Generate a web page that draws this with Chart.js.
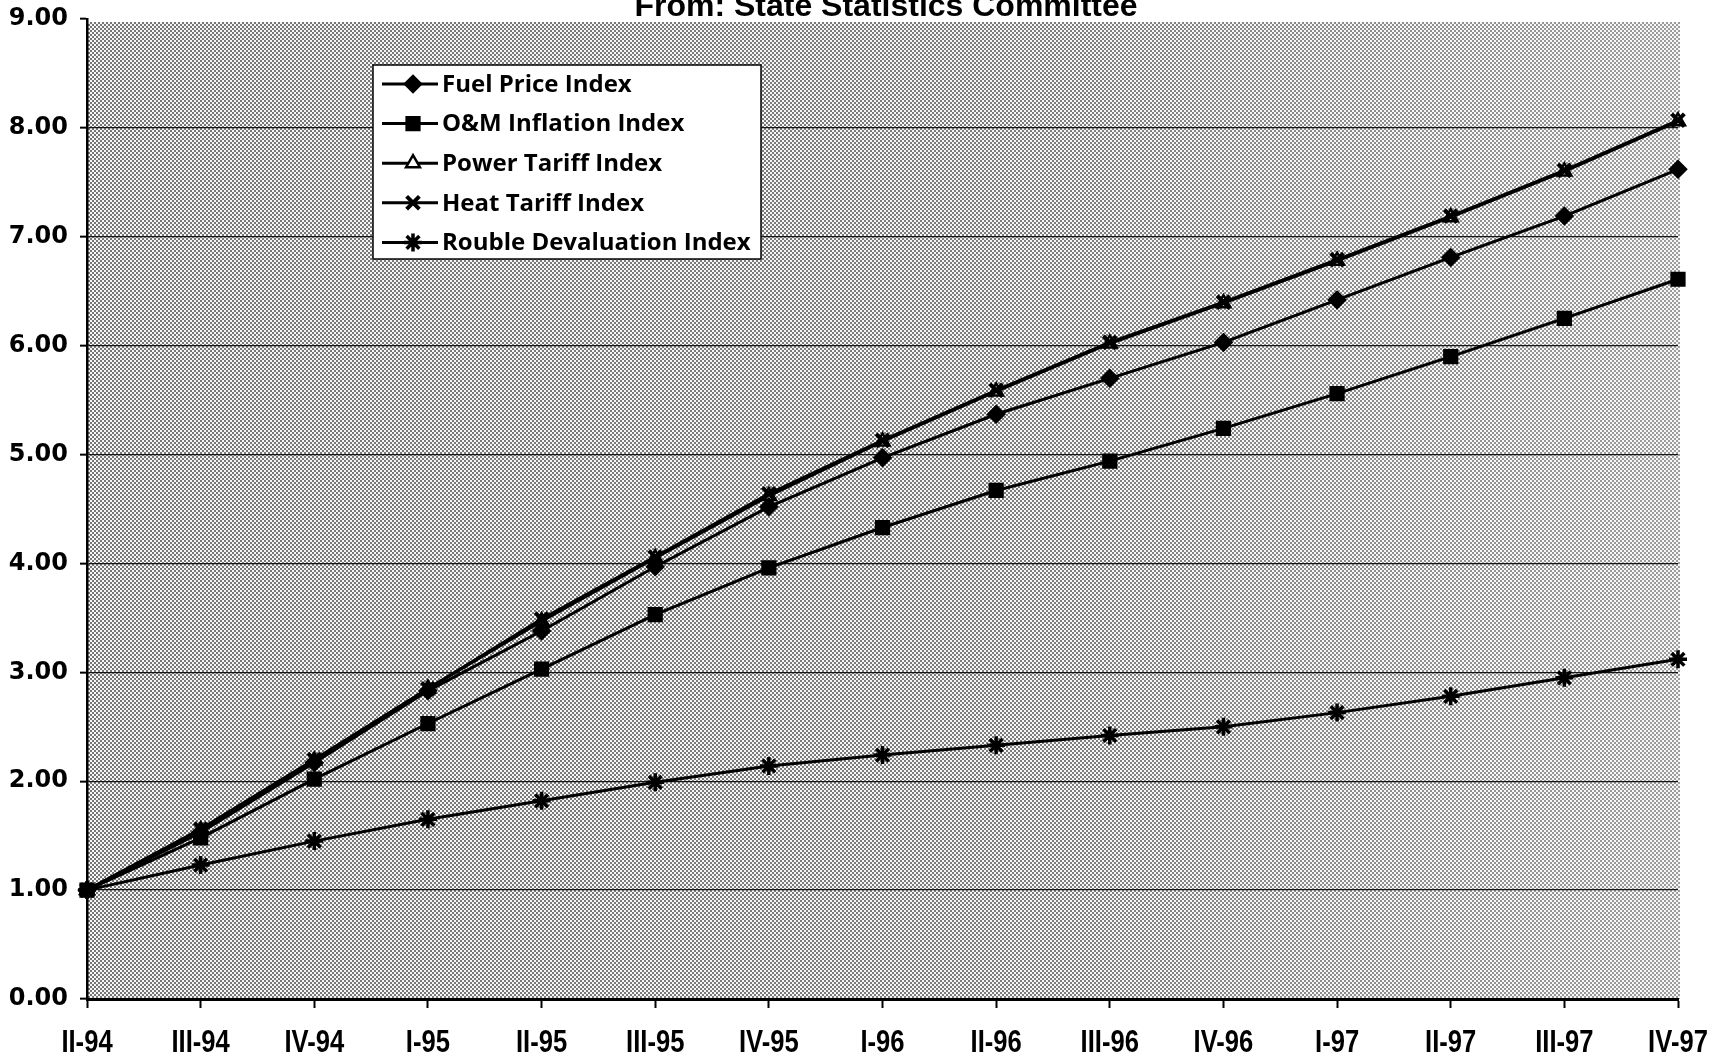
<!DOCTYPE html>
<html>
<head>
<meta charset="utf-8">
<script src="https://cdn.jsdelivr.net/npm/chart.js@4.4.1/dist/chart.umd.min.js"></script>
<style>
  html, body { margin: 0; padding: 0; background: #ffffff; }
  canvas { display: block; }
</style>
</head>
<body>
<canvas id="chart" width="1723" height="1062"></canvas>
<script>
// Quarterly index series, base II-94 = 1.00
const quarters = ['II-94', 'III-94', 'IV-94', 'I-95', 'II-95', 'III-95', 'IV-95', 'I-96',
                  'II-96', 'III-96', 'IV-96', 'I-97', 'II-97', 'III-97', 'IV-97'];
const fuelPrice         = [1.00, 1.53, 2.17, 2.83, 3.38, 3.97, 4.52, 4.97, 5.37, 5.70, 6.03, 6.42, 6.81, 7.19, 7.62];
const omInflation       = [1.00, 1.48, 2.02, 2.53, 3.03, 3.53, 3.96, 4.33, 4.67, 4.94, 5.24, 5.56, 5.90, 6.25, 6.61];
const powerTariff       = [1.00, 1.55, 2.19, 2.85, 3.47, 4.05, 4.62, 5.12, 5.58, 6.02, 6.39, 6.78, 7.18, 7.60, 8.06];
const heatTariff        = [1.00, 1.56, 2.20, 2.85, 3.49, 4.06, 4.64, 5.13, 5.59, 6.03, 6.40, 6.79, 7.19, 7.61, 8.07];
const roubleDevaluation = [1.00, 1.23, 1.45, 1.65, 1.82, 1.99, 2.14, 2.24, 2.33, 2.42, 2.50, 2.63, 2.78, 2.95, 3.12];
const seriesNames = ['Fuel Price Index', 'O&M Inflation Index', 'Power Tariff Index',
                     'Heat Tariff Index', 'Rouble Devaluation Index'];
const titleText = 'From: State Statistics Committee';

const INK = '#000000';

// Dotted halftone fill for the plotting area
function makeHalftone() {
  const t = document.createElement('canvas');
  t.width = 4; t.height = 4;
  const g = t.getContext('2d');
  g.fillStyle = '#f6f6f6';
  g.fillRect(0, 0, 4, 4);
  g.fillStyle = '#767676';
  g.fillRect(0, 0, 2, 2);
  g.fillRect(2, 2, 2, 2);
  return t;
}

const backdrop = {
  id: 'backdrop',
  beforeDraw(chart) {
    const { ctx, chartArea: a } = chart;
    ctx.save();
    ctx.fillStyle = '#ffffff';
    ctx.fillRect(0, 0, chart.width, chart.height);
    ctx.fillStyle = ctx.createPattern(makeHalftone(), 'repeat');
    ctx.fillRect(a.left, a.top + 3, a.right - a.left + 2, a.bottom - a.top - 3);
    const fade = ctx.createLinearGradient(a.left, 0, a.right, 0);
    fade.addColorStop(0, 'rgba(255,255,255,0)');
    fade.addColorStop(0.6, 'rgba(255,255,255,0.05)');
    fade.addColorStop(1, 'rgba(255,255,255,0.28)');
    ctx.fillStyle = fade;
    ctx.fillRect(a.left, a.top + 3, a.right - a.left + 2, a.bottom - a.top - 3);
    // title, running off the top edge of the page
    ctx.fillStyle = INK;
    ctx.font = 'bold 32px "Liberation Sans", Arial, sans-serif';
    ctx.textAlign = 'center';
    ctx.textBaseline = 'alphabetic';
    ctx.fillText(titleText, 886, 16);
    ctx.restore();
  }
};

// Condensed category labels under the x axis, placed from the category scale
const quarterLabels = {
  id: 'quarterLabels',
  afterDraw(chart) {
    const { ctx } = chart;
    const xs = chart.scales.x;
    ctx.save();
    ctx.fillStyle = INK;
    ctx.font = 'bold 32px "Liberation Sans", Arial, sans-serif';
    ctx.textAlign = 'center';
    ctx.textBaseline = 'middle';
    xs.ticks.forEach((t, i) => {
      ctx.save();
      ctx.translate(xs.getPixelForTick(i), xs.bottom - 19);
      ctx.scale(0.8, 1);
      ctx.fillText(xs.getLabelForValue(t.value), 0, 0);
      ctx.restore();
    });
    ctx.restore();
  }
};

// Boxed legend with a line-and-marker sample for each series
const boxedLegend = {
  id: 'boxedLegend',
  afterDraw(chart) {
    const { ctx } = chart;
    const left = 373, top = 65, width = 388, height = 194;
    const rowTop = 84, rowStep = 39.6;
    ctx.save();
    ctx.fillStyle = '#ffffff';
    ctx.fillRect(left, top, width, height);
    ctx.strokeStyle = INK;
    ctx.lineWidth = 1.5;
    ctx.strokeRect(left, top, width, height);
    chart.data.datasets.forEach((ds, i) => {
      const y = rowTop + i * rowStep;
      ctx.strokeStyle = INK;
      ctx.lineWidth = 3;
      ctx.beginPath();
      ctx.moveTo(382, y);
      ctx.lineTo(438, y);
      ctx.stroke();
      ctx.fillStyle = ds.pointBackgroundColor;
      ctx.strokeStyle = INK;
      ctx.lineWidth = ds.pointBorderWidth;
      Chart.helpers.drawPoint(ctx, {
        pointStyle: ds.pointStyle, radius: ds.pointRadius,
        borderWidth: ds.pointBorderWidth, rotation: 0
      }, 413, y);
      ctx.fillStyle = INK;
      ctx.font = 'bold 24px "Open Sans", "DejaVu Sans", sans-serif';
      ctx.textAlign = 'left';
      ctx.textBaseline = 'middle';
      ctx.fillText(ds.label, 442, y + 1);
    });
    ctx.restore();
  }
};

function series(label, data, style, fill, radius, border, order) {
  return {
    label, data, order,
    borderColor: INK, borderWidth: 3, tension: 0,
    pointStyle: style, pointRadius: radius, pointHoverRadius: radius,
    pointBackgroundColor: fill, pointBorderColor: INK, pointBorderWidth: border
  };
}

new Chart(document.getElementById('chart'), {
  type: 'line',
  data: {
    labels: quarters,
    datasets: [
      series(seriesNames[0], fuelPrice, 'rectRot', INK, 8, 2.5, 1),
      series(seriesNames[1], omInflation, 'rect', INK, 9, 2.5, 2),
      series(seriesNames[2], powerTariff, 'triangle', '#ffffff', 8, 2.5, 5),
      series(seriesNames[3], heatTariff, 'crossRot', INK, 9, 4, 3),
      series(seriesNames[4], roubleDevaluation, 'star', INK, 9, 3.5, 4)
    ]
  },
  options: {
    responsive: false,
    devicePixelRatio: 1,
    animation: false,
    events: [],
    layout: { padding: { top: 19, right: 45, left: 0, bottom: 0 } },
    plugins: { legend: { display: false }, tooltip: { enabled: false }, title: { display: false } },
    scales: {
      x: {
        type: 'category',
        offset: false,
        afterFit(s) { s.height = 63; s.paddingLeft = 0; s.paddingRight = 0; },
        grid: { drawOnChartArea: false, drawTicks: true, tickLength: 9, tickColor: INK, tickWidth: 2 },
        border: { display: true, color: INK, width: 3 },
        ticks: { display: false, autoSkip: false, maxRotation: 0 }
      },
      y: {
        min: 0, max: 9,
        afterFit(s) { s.width = 87; s.paddingTop = 0; s.paddingBottom = 0; },
        grid: {
          color: (c) => (c.tick && (c.tick.value === 0 || c.tick.value === 9)) ? 'rgba(0,0,0,0)' : '#151515',
          lineWidth: 1.3, drawTicks: true, tickLength: 7, tickColor: INK, tickWidth: 2
        },
        border: { display: true, color: INK, width: 2.5 },
        ticks: {
          stepSize: 1, color: INK, padding: 12,
          callback: (v) => Number(v).toFixed(2),
          font: { family: '"DejaVu Sans", Verdana, sans-serif', weight: 'bold', size: 24 }
        }
      }
    }
  },
  plugins: [backdrop, quarterLabels, boxedLegend]
});
</script>
</body>
</html>
